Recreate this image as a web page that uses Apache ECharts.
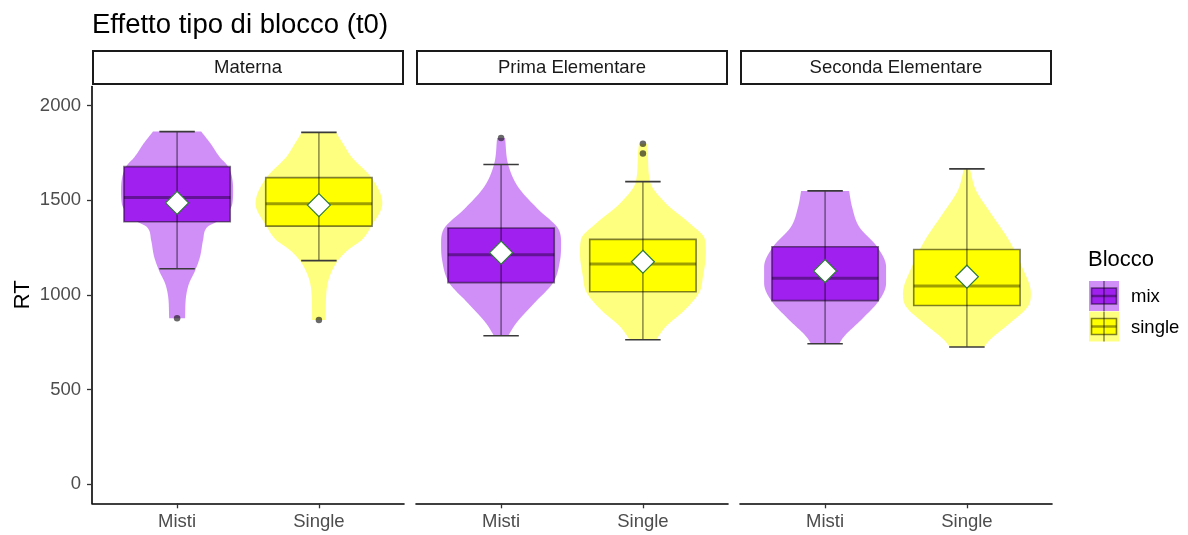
<!DOCTYPE html>
<html>
<head>
<meta charset="utf-8">
<script src="https://cdn.jsdelivr.net/npm/echarts@6/dist/echarts.min.js"></script>
<style>
  html, body { margin: 0; padding: 0; background: #ffffff; }
  #chart { width: 1188px; height: 535px; }
</style>
</head>
<body>
<div id="chart"></div>
<script>
// Facets, x categories and legend groups
const facets = ['Materna', 'Prima Elementare', 'Seconda Elementare'];
const conditions = ['Misti', 'Single'];
const groups = ['mix', 'single'];
const yTicks = [0, 500, 1000, 1500, 2000];

// Box statistics per facet: [lower whisker, Q1, median, Q3, upper whisker]
const boxMix = [
  [1138, 1386, 1514, 1677, 1862],
  [784, 1065, 1212, 1353, 1688],
  [742, 970, 1088, 1254, 1549]
];
const boxSingle = [
  [1181, 1363, 1481, 1619, 1858],
  [763, 1017, 1163, 1293, 1598],
  [725, 944, 1047, 1240, 1665]
];

// Group means per facet
const meanMix = [1486, 1223, 1126];
const meanSingle = [1474, 1175, 1096];

// Points beyond the whiskers per facet
const outliersMix = [[877], [1828], []];
const outliersSingle = [[868], [1798, 1746], []];

// Violin outlines per facet: [RT, half-width in category steps]
const violinMix = [
  [[1862, 0.17], [1800, 0.235], [1728, 0.30], [1677, 0.36], [1553, 0.395], [1483, 0.39], [1430, 0.35], [1386, 0.28], [1360, 0.215], [1289, 0.183], [1202, 0.162], [1128, 0.127], [1062, 0.085], [991, 0.063], [877, 0.056]],
  [[1828, 0.028], [1688, 0.05], [1570, 0.12], [1447, 0.268], [1353, 0.40], [1272, 0.423], [1184, 0.416], [1065, 0.367], [956, 0.233], [851, 0.106], [784, 0.05]],
  [[1549, 0.169], [1465, 0.19], [1360, 0.24], [1254, 0.367], [1149, 0.43], [1061, 0.43], [970, 0.38], [868, 0.254], [781, 0.134], [742, 0.099]]
];
const violinSingle = [
  [[1858, 0.12], [1798, 0.17], [1728, 0.23], [1619, 0.37], [1483, 0.447], [1363, 0.37], [1289, 0.30], [1237, 0.205], [1181, 0.134], [1096, 0.075], [1009, 0.052], [868, 0.048]],
  [[1798, 0.028], [1746, 0.035], [1598, 0.05], [1483, 0.162], [1377, 0.331], [1293, 0.437], [1219, 0.444], [1096, 0.423], [1017, 0.40], [921, 0.296], [833, 0.162], [763, 0.092]],
  [[1665, 0.021], [1553, 0.063], [1430, 0.169], [1289, 0.296], [1149, 0.388], [1009, 0.451], [939, 0.43], [851, 0.303], [763, 0.162], [725, 0.12]]
];

const FONT = '"Liberation Sans", Arial, sans-serif';
const solid = ['#A020F0', '#FFFF00'];
const soft = ['rgba(160,32,240,0.5)', 'rgba(255,255,0,0.5)'];
const lineCol = 'rgba(0,0,0,0.5)';
const medCol = 'rgba(0,0,0,0.38)';
const capCol = '#3a3a3a';
const BOX_HALF = 0.375;
const CAP_HALF = 0.125;
const TICK_FONT = 18.5;

const panelLeft = [92, 416, 740];
const panelWidth = 312;
const panelTop = 86.5;
const panelHeight = 416.8;

// Monotone cubic resampling of an outline (drawing only, keeps the curve from overshooting)
function smoothOutline(prof, steps) {
  const n = prof.length;
  if (n < 3) return prof;
  const xs = prof.map(p => p[0]);
  const ys = prof.map(p => p[1]);
  const d = [];
  for (let k = 0; k < n - 1; k++) d.push((ys[k + 1] - ys[k]) / (xs[k + 1] - xs[k]));
  const m = new Array(n);
  m[0] = d[0];
  m[n - 1] = d[n - 2];
  for (let k = 1; k < n - 1; k++) m[k] = (d[k - 1] * d[k] <= 0) ? 0 : (d[k - 1] + d[k]) / 2;
  for (let k = 0; k < n - 1; k++) {
    if (d[k] === 0) { m[k] = 0; m[k + 1] = 0; continue; }
    const a = m[k] / d[k], b = m[k + 1] / d[k];
    const s = a * a + b * b;
    if (s > 9) {
      const t = 3 / Math.sqrt(s);
      m[k] = t * a * d[k];
      m[k + 1] = t * b * d[k];
    }
  }
  const out = [];
  for (let k = 0; k < n - 1; k++) {
    const h = xs[k + 1] - xs[k];
    for (let j = 0; j < steps; j++) {
      const t = j / steps;
      const t2 = t * t, t3 = t2 * t;
      const h00 = 2 * t3 - 3 * t2 + 1, h10 = t3 - 2 * t2 + t, h01 = -2 * t3 + 3 * t2, h11 = t3 - t2;
      out.push([xs[k] + t * h, h00 * ys[k] + h10 * h * m[k] + h01 * ys[k + 1] + h11 * h * m[k + 1]]);
    }
  }
  out.push(prof[n - 1]);
  return out;
}

const grids = [], xAxes = [], yAxes = [], series = [];

facets.forEach((facet, i) => {
  grids.push({ left: panelLeft[i], top: panelTop, width: panelWidth, height: panelHeight });
  xAxes.push({
    type: 'value', gridIndex: i, min: 0.4, max: 2.6,
    splitLine: { show: false },
    axisLine: { show: true, onZero: false, lineStyle: { color: '#000', width: 1.6 } },
    axisTick: { show: true, customValues: [1, 2], length: 5, lineStyle: { color: '#333', width: 1.3 } },
    axisLabel: { customValues: [1, 2], formatter: v => conditions[Math.round(v) - 1], color: '#4d4d4d', fontSize: TICK_FONT, fontFamily: FONT, margin: 9 }
  });
  yAxes.push({
    type: 'value', gridIndex: i, min: -100, max: 2100,
    show: i === 0,
    name: i === 0 ? 'RT' : '', nameLocation: 'middle', nameGap: 58, nameRotate: 90,
    nameTextStyle: { fontSize: 22, color: '#000', fontFamily: FONT },
    splitLine: { show: false },
    axisLine: { show: true, onZero: false, lineStyle: { color: '#000', width: 1.6 } },
    axisTick: { show: true, customValues: yTicks, length: 5, lineStyle: { color: '#333', width: 1.3 } },
    axisLabel: { customValues: yTicks, formatter: v => String(v), color: '#4d4d4d', fontSize: TICK_FONT, fontFamily: FONT, margin: 11 }
  });

  // violins
  const profiles = [violinMix[i], violinSingle[i]];
  series.push({
    type: 'custom', xAxisIndex: i, yAxisIndex: i, z: 1, silent: true,
    data: [[1, 0], [2, 1]],
    encode: { x: 0, y: -1 },
    renderItem: (params, api) => {
      const x = api.value(0);
      const g = api.value(1);
      const prof = smoothOutline(profiles[g].slice().sort((a, b) => a[0] - b[0]), 10);
      const pts = [];
      prof.forEach(p => pts.push(api.coord([x + p[1], p[0]])));
      prof.slice().reverse().forEach(p => pts.push(api.coord([x - p[1], p[0]])));
      return { type: 'polygon', shape: { points: pts }, style: { fill: soft[g], stroke: null } };
    }
  });

  // boxes with whiskers
  series.push({
    type: 'custom', xAxisIndex: i, yAxisIndex: i, z: 2, silent: true,
    data: [[1].concat(boxMix[i]), [2].concat(boxSingle[i])],
    encode: { x: 0, y: [1, 5] },
    renderItem: (params, api) => {
      const g = params.dataIndex;
      const x = api.value(0);
      const lo = api.value(1), q1 = api.value(2), med = api.value(3), q3 = api.value(4), hi = api.value(5);
      const tl = api.coord([x - BOX_HALF, q3]);
      const br = api.coord([x + BOX_HALF, q1]);
      const mL = api.coord([x - BOX_HALF, med]);
      const mR = api.coord([x + BOX_HALF, med]);
      const top = api.coord([x, hi]);
      const bot = api.coord([x, lo]);
      const cTL = api.coord([x - CAP_HALF, hi]);
      const cTR = api.coord([x + CAP_HALF, hi]);
      const cBL = api.coord([x - CAP_HALF, lo]);
      const cBR = api.coord([x + CAP_HALF, lo]);
      return {
        type: 'group',
        children: [
          { type: 'rect', shape: { x: tl[0], y: tl[1], width: br[0] - tl[0], height: br[1] - tl[1] },
            style: { fill: solid[g], stroke: lineCol, lineWidth: 1.6 } },
          { type: 'line', shape: { x1: mL[0], y1: mL[1], x2: mR[0], y2: mR[1] },
            style: { stroke: medCol, lineWidth: 3 } },
          { type: 'line', shape: { x1: top[0], y1: top[1], x2: bot[0], y2: bot[1] },
            style: { stroke: lineCol, lineWidth: 1.4 } },
          { type: 'line', shape: { x1: cTL[0], y1: cTL[1], x2: cTR[0], y2: cTR[1] },
            style: { stroke: capCol, lineWidth: 1.6 } },
          { type: 'line', shape: { x1: cBL[0], y1: cBL[1], x2: cBR[0], y2: cBR[1] },
            style: { stroke: capCol, lineWidth: 1.6 } }
        ]
      };
    }
  });

  // outliers
  const outData = outliersMix[i].map(v => [1, v]).concat(outliersSingle[i].map(v => [2, v]));
  series.push({
    type: 'scatter', xAxisIndex: i, yAxisIndex: i, z: 3, silent: true,
    symbol: 'circle', symbolSize: 6.5,
    itemStyle: { color: 'rgba(20,20,20,0.8)' },
    data: outData
  });

  // means
  series.push({
    type: 'scatter', xAxisIndex: i, yAxisIndex: i, z: 4, silent: true,
    symbol: 'diamond', symbolSize: 23,
    itemStyle: { color: '#ffffff', borderColor: '#2f7a3a', borderWidth: 1.2, opacity: 1 },
    data: [[1, meanMix[i]], [2, meanSingle[i]]]
  });
});

// strip headers above each panel
const graphics = [];
facets.forEach((facet, i) => {
  graphics.push({
    type: 'rect', silent: true,
    shape: { x: panelLeft[i] + 1, y: 51, width: panelWidth - 2, height: 33 },
    style: { fill: '#ffffff', stroke: '#1a1a1a', lineWidth: 2 }
  });
  graphics.push({
    type: 'text', silent: true,
    style: { x: panelLeft[i] + panelWidth / 2, y: 68, text: facet, align: 'center', verticalAlign: 'middle',
      font: TICK_FONT + 'px ' + FONT, fill: '#1a1a1a' }
  });
});

// chart title
graphics.push({
  type: 'text', silent: true,
  style: { x: 92, y: 25, text: 'Effetto tipo di blocco (t0)', align: 'left', verticalAlign: 'middle',
    font: '27.5px ' + FONT, fill: '#000' }
});

// legend
graphics.push({
  type: 'text', silent: true,
  style: { x: 1088, y: 260, text: 'Blocco', align: 'left', verticalAlign: 'middle', font: '22px ' + FONT, fill: '#000' }
});
groups.forEach((name, g) => {
  const ky = 281 + g * 30.5;
  const kx = 1089;
  graphics.push({ type: 'rect', silent: true, shape: { x: kx, y: ky, width: 30, height: 30 }, style: { fill: soft[g], stroke: null } });
  graphics.push({ type: 'line', silent: true, shape: { x1: kx + 15, y1: ky, x2: kx + 15, y2: ky + 30 }, style: { stroke: lineCol, lineWidth: 1.4 } });
  graphics.push({ type: 'rect', silent: true, shape: { x: kx + 2.5, y: ky + 7, width: 25, height: 16 }, style: { fill: solid[g], stroke: lineCol, lineWidth: 1.6 } });
  graphics.push({ type: 'line', silent: true, shape: { x1: kx + 2.5, y1: ky + 15, x2: kx + 27.5, y2: ky + 15 }, style: { stroke: medCol, lineWidth: 2.5 } });
  graphics.push({ type: 'line', silent: true, shape: { x1: kx + 15, y1: ky + 7, x2: kx + 15, y2: ky + 23 }, style: { stroke: lineCol, lineWidth: 1.4 } });
  graphics.push({
    type: 'text', silent: true,
    style: { x: 1131, y: ky + 16, text: name, align: 'left', verticalAlign: 'middle', font: TICK_FONT + 'px ' + FONT, fill: '#000' }
  });
});

const chart = echarts.init(document.getElementById('chart'), null, { renderer: 'canvas' });
chart.setOption({
  animation: false,
  backgroundColor: '#ffffff',
  grid: grids,
  xAxis: xAxes,
  yAxis: yAxes,
  series: series,
  graphic: graphics
});
</script>
</body>
</html>
